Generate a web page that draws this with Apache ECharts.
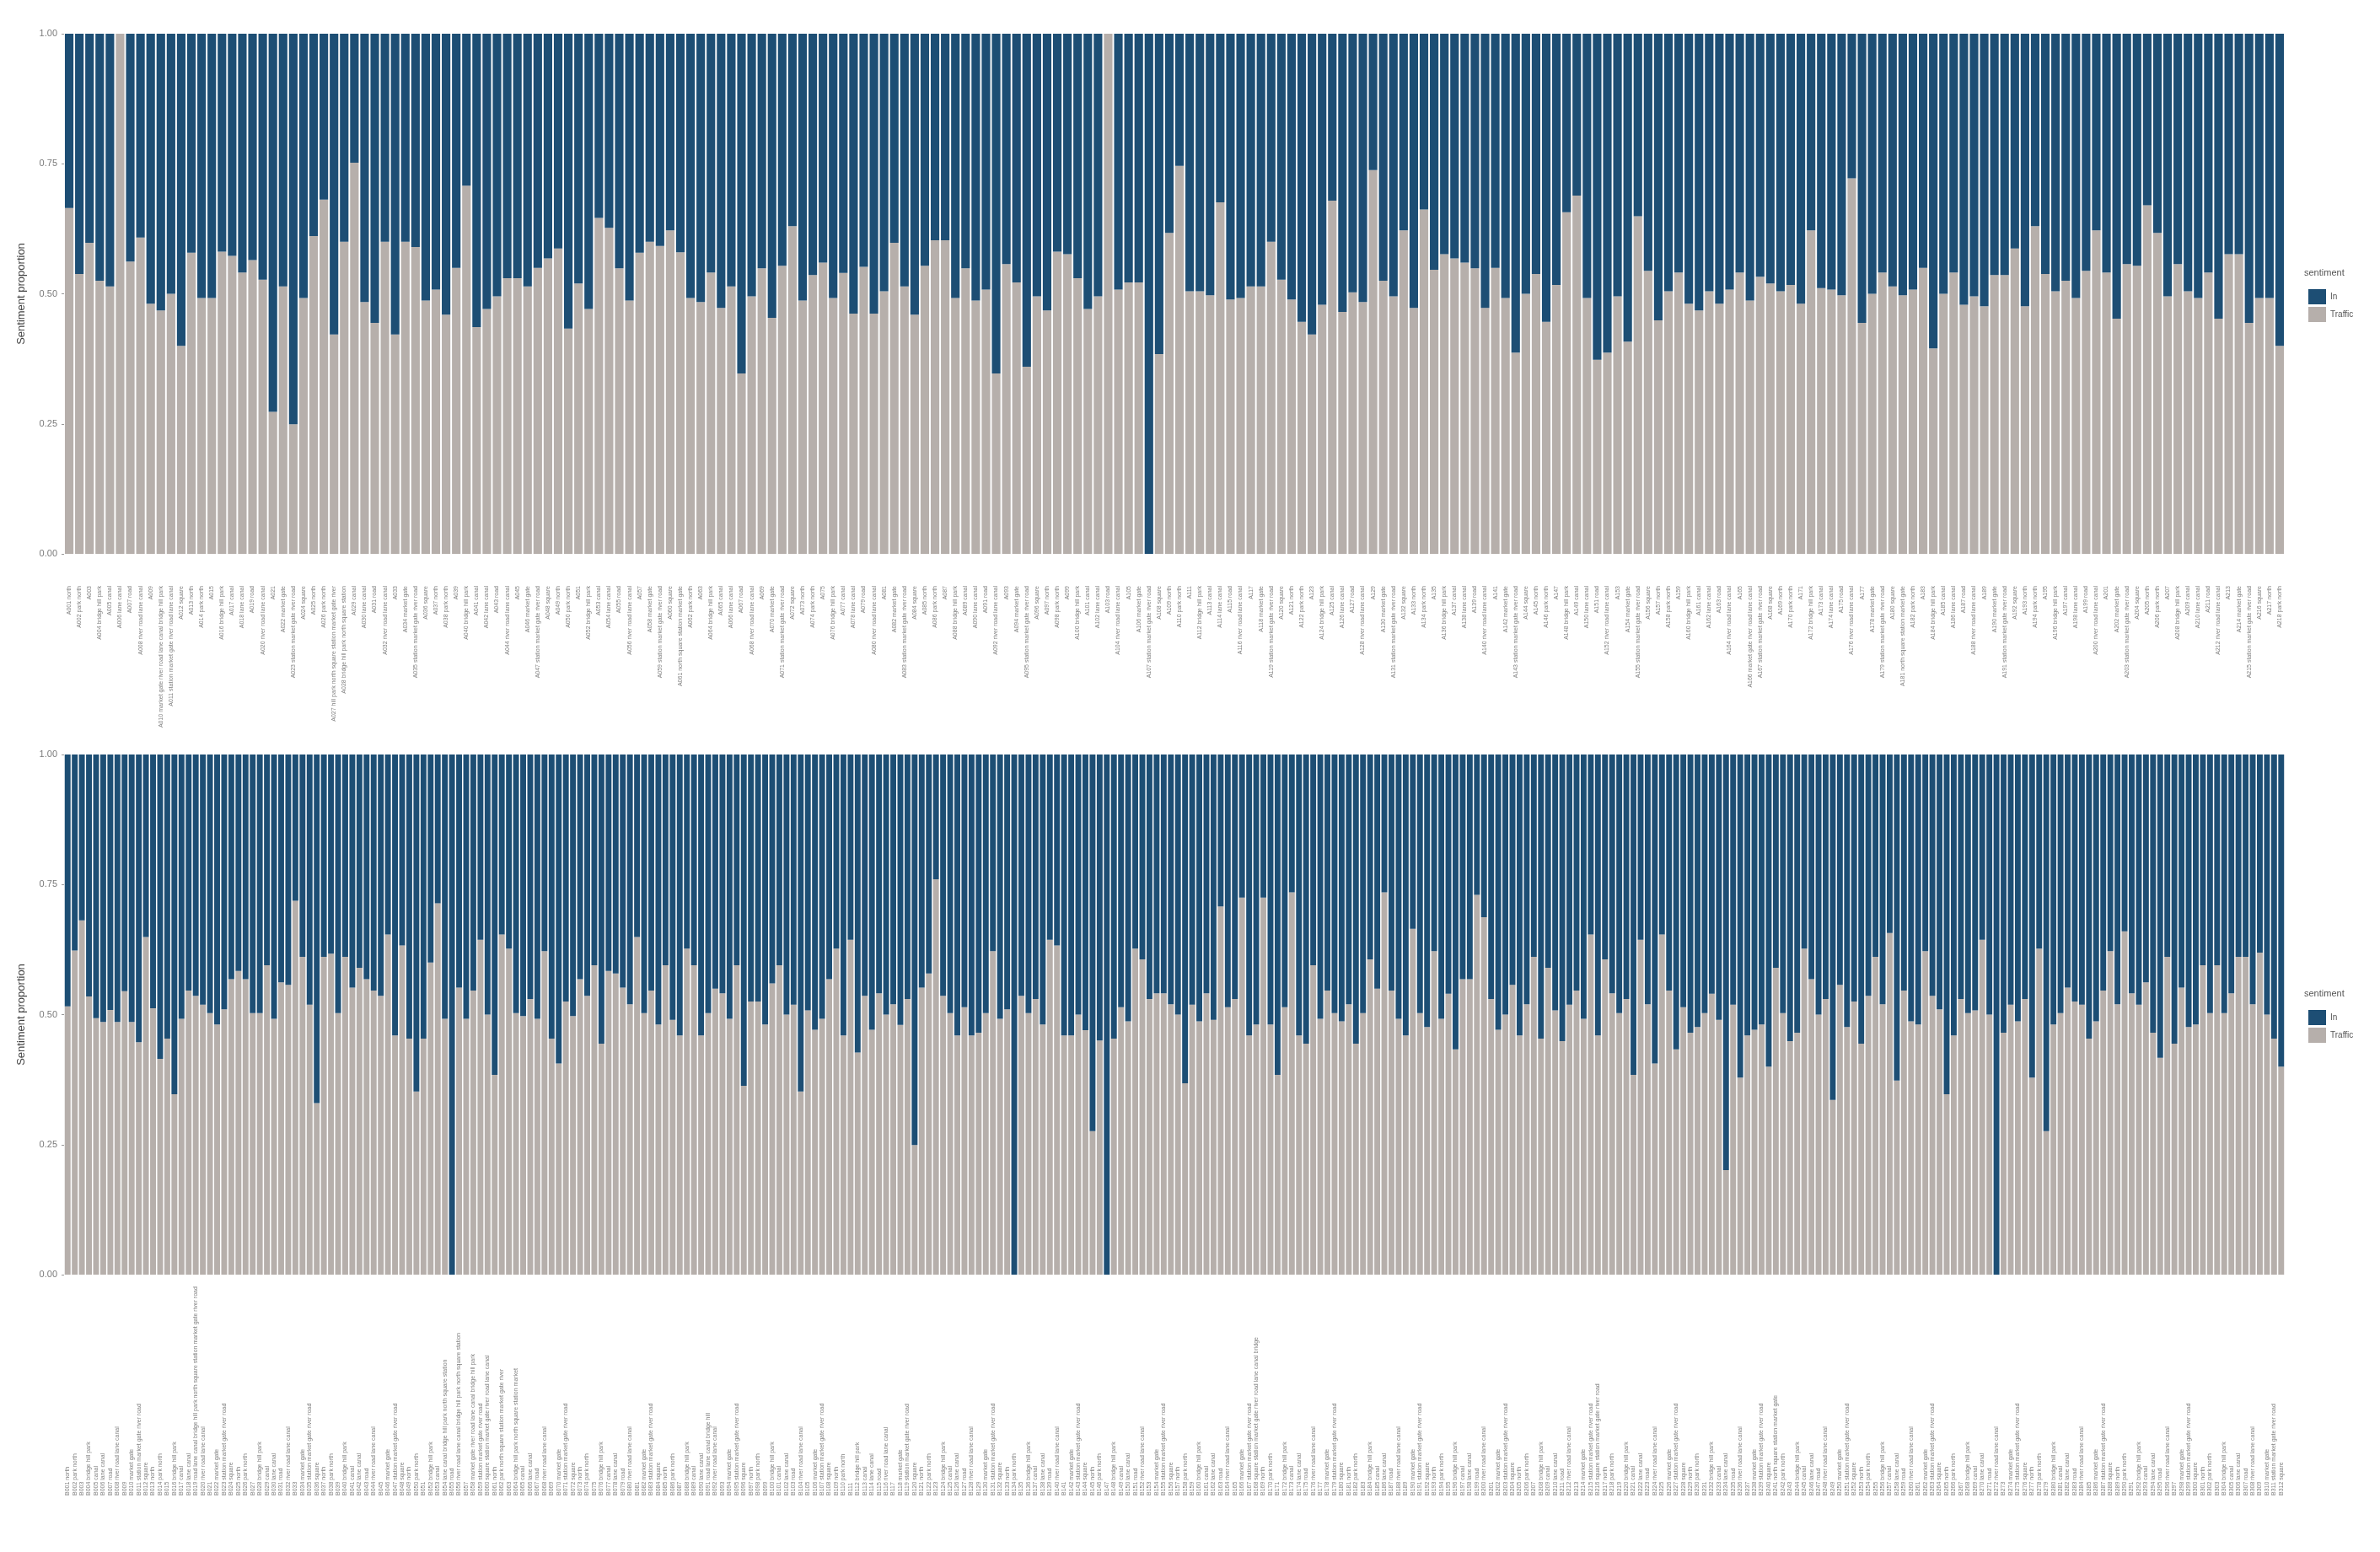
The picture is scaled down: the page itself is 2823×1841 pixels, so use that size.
<!DOCTYPE html>
<html><head><meta charset="utf-8">
<script src="https://cdn.jsdelivr.net/npm/echarts@6/dist/echarts.min.js"></script>
<style>html,body{margin:0;padding:0;background:#fff}#c{width:2823px;height:1841px}</style>
</head><body><div id="c"></div>
<script>
// share of the grey ("Traffic") part of every bar
const topShare = [
0.665,0.538,0.598,0.525,0.514,1.0,0.562,0.608,0.481,0.468,
0.500,0.400,0.579,0.492,0.492,0.581,0.573,0.541,0.565,0.527,
0.273,0.514,0.249,0.492,0.611,0.681,0.422,0.600,0.752,0.484,
0.444,0.600,0.422,0.600,0.590,0.487,0.508,0.460,0.550,0.708,
0.436,0.471,0.495,0.530,0.530,0.514,0.550,0.568,0.587,0.433,
0.520,0.471,0.646,0.627,0.549,0.487,0.579,0.600,0.592,0.622,
0.580,0.492,0.484,0.541,0.473,0.514,0.347,0.495,0.549,0.454,
0.554,0.630,0.487,
0.536,0.560,0.492,0.540,0.462,0.552,0.462,0.505,0.598,0.514,
0.460,0.554,0.603,0.603,0.492,0.549,0.487,0.508,0.347,0.557,
0.522,0.360,0.495,0.468,0.581,0.576,0.530,0.471,0.495,1.0,
0.508,0.522,0.522,0.0,0.384,0.617,0.746,0.505,0.505,0.497,
0.676,0.489,0.492,0.514,0.514,0.600,0.527,0.489,0.446,0.422,
0.479,0.679,0.465,0.503,0.484,0.738,0.525,0.495,0.622,0.473,
0.662,0.546,0.576,0.568,0.560,0.549,0.473,0.550,0.492,0.387,
0.500,0.538,0.446,
0.517,0.657,0.689,0.492,0.373,0.387,0.495,0.408,0.649,0.544,
0.449,0.505,0.541,0.481,0.468,0.505,0.481,0.508,0.541,0.487,
0.533,0.520,0.505,0.517,0.481,0.622,0.511,0.508,0.497,0.722,
0.444,0.500,0.541,0.514,0.497,0.508,0.550,0.395,0.500,0.541,
0.479,0.495,0.476,0.536,0.536,0.587,0.476,0.630,0.538,0.505,
0.525,0.492,0.544,0.622,0.541,0.452,0.557,0.554,0.670,0.617,
0.495,0.557,0.505,0.492,0.541,0.452,0.576,0.576,0.444,0.492,
0.492,0.400
];
const bottomShare = [
0.516,0.623,0.681,0.535,0.493,0.486,0.509,0.486,0.545,0.486,0.447,0.649,0.512,0.415,0.454,
0.347,
0.492,0.546,0.536,0.519,0.503,0.481,0.510,0.568,0.584,0.568,0.503,0.503,0.595,0.492,0.562,0.557,0.719,0.611,0.519,0.330,
0.611,0.617,0.503,0.611,0.552,0.590,0.568,0.546,0.536,0.654,0.460,0.633,0.454,0.352,0.454,0.600,0.714,0.492,0.0,
0.552,0.492,0.546,0.644,0.500,0.384,0.654,0.627,0.503,0.497,0.530,0.492,0.622,0.454,0.406,0.525,0.497,0.568,0.536,0.595,
0.444,0.584,0.579,0.552,0.520,0.649,0.503,0.546,0.481,0.595,0.490,0.460,0.627,0.595,0.460,0.503,0.550,0.541,0.492,0.595,
0.363,0.525,0.525,0.481,0.560,0.595,0.500,0.519,0.352,
0.508,0.471,0.492,0.568,0.627,0.460,0.644,0.427,0.536,0.471,0.541,0.500,0.520,0.480,0.530,0.249,0.552,0.579,0.760,0.536,
0.503,0.460,0.514,0.460,0.465,0.503,0.622,0.492,0.510,0.0,
0.536,0.503,0.530,0.481,0.644,0.633,0.460,0.460,0.500,0.470,0.276,0.450,0.0,
0.454,0.514,0.487,0.627,0.606,0.530,0.541,0.541,0.520,0.500,0.368,0.519,0.487,0.541,0.490,0.708,0.514,0.530,0.725,0.460,
0.481,0.725,0.481,0.384,0.514,0.735,0.460,0.444,0.595,0.492,0.546,0.503,0.487,0.520,0.444,0.503,0.606,0.550,0.735,0.546,
0.492,0.460,0.665,0.503,0.476,0.622,0.492,0.540,0.433,0.568,0.568,0.730,0.687,0.530,0.471,0.500,0.557,0.460,0.520,0.611,
0.454,0.590,
0.508,0.449,0.519,0.546,0.492,0.654,0.460,0.606,0.541,0.503,0.530,0.384,0.644,0.520,0.406,0.654,0.546,0.433,0.514,0.465,
0.476,0.503,0.540,0.490,0.201,0.519,0.379,0.460,0.471,0.481,0.400,0.590,0.503,0.449,0.465,0.627,0.568,0.500,0.530,0.336,
0.557,0.476,0.525,0.444,0.536,0.611,0.520,0.657,0.373,0.546,0.487,0.481,0.622,0.536,0.510,0.347,0.460,0.530,0.503,0.508,
0.644,0.500,0.0,
0.465,0.519,0.487,0.530,0.379,0.627,0.276,0.481,0.503,0.552,0.525,0.519,0.454,0.487,0.546,0.622,0.520,0.660,0.541,0.519,
0.562,0.465,0.417,0.611,0.444,0.552,0.476,0.481,0.595,0.503,0.595,0.503,0.541,0.611,0.611,0.520,0.619,0.500,0.454,0.400
];
const seriesNames = ['In', 'Traffic'];
const legendTitle = 'sentiment';
const yTitle = 'Sentiment proportion';
const yTicks = ['0.00', '0.25', '0.50', '0.75', '1.00'];
const nameWords = ['north','lane','station','bridge','gate','park','road','square','canal','market','hill','river'];
// label word counts (unreadable labels: lengths follow the picture)
const topLongLabels = {9: 9, 10: 7, 26: 8, 27: 6, 60: 5, 165: 6, 180: 5};
const bottomLongLabels = {18: 13, 53: 8, 55: 10, 57: 9, 59: 8, 61: 7, 63: 7, 167: 9, 90: 5, 215: 6, 240: 5};
function makeName(prefix, i, longMap) {
  const n = longMap[i] !== undefined ? longMap[i] : [1,2,0,3,1,2,1,4,0,2,5,1][i % 12];
  const w = [];
  for (let k = 0; k < n; k++) w.push(nameWords[(i * 5 + k * 7) % nameWords.length]);
  return prefix + String(i + 1).padStart(3, '0') + (w.length ? ' ' + w.join(' ') : '');
}
const topCategories = topShare.map((_, i) => makeName('A', i, topLongLabels));
const bottomCategories = bottomShare.map((_, i) => makeName('B', i, bottomLongLabels));

const BLUE = '#1d4e74', GREY = '#b6afab';
const FONT = 'Liberation Sans';
const chart = echarts.init(document.getElementById('c'), null, {renderer: 'canvas'});

function yAxis(gi) {
  return {
    type: 'value', gridIndex: gi, min: 0, max: 1, interval: 0.25,
    axisLine: {show: false}, axisTick: {show: true, length: 3, lineStyle: {color: '#999'}},
    splitLine: {show: false},
    axisLabel: {fontSize: 11, color: '#7a7a7a', fontFamily: FONT, margin: 8,
      formatter: v => yTicks[Math.round(v * 4)]},
    name: yTitle, nameLocation: 'middle', nameRotate: 90, nameGap: 44,
    nameTextStyle: {fontSize: 13, color: '#444', fontFamily: FONT}
  };
}
const option = {
  backgroundColor: '#fff',
  animation: false,
  grid: [
    {left: 76, right: 113, top: 40, height: 617},
    {left: 76, right: 113, top: 895, height: 617}
  ],
  xAxis: [
    {type: 'category', gridIndex: 0, data: topCategories,
      axisLine: {show: false}, axisTick: {show: false},
      axisLabel: {interval: 0, rotate: 90, fontSize: 7, color: '#808080', fontFamily: FONT, margin: 38}},
    {type: 'category', gridIndex: 1, data: bottomCategories,
      axisLine: {show: false}, axisTick: {show: false},
      axisLabel: {interval: 0, rotate: 90, align: 'left', fontSize: 7, color: '#808080', fontFamily: FONT, margin: 262}}
  ],
  yAxis: [yAxis(0), yAxis(1)],
  legend: [
    {orient: 'vertical', left: 2733, top: 338, itemWidth: 21, itemHeight: 18, itemGap: 3,
      icon: 'rect', data: seriesNames, textStyle: {fontSize: 10, color: '#555', fontFamily: FONT}, selectedMode: false},
    {orient: 'vertical', left: 2733, top: 1193, itemWidth: 21, itemHeight: 18, itemGap: 3,
      icon: 'rect', data: seriesNames, textStyle: {fontSize: 10, color: '#555', fontFamily: FONT}, selectedMode: false}
  ],
  graphic: [
    {type: 'text', left: 2733, top: 318, style: {text: legendTitle, fontSize: 11, fill: '#555', fontFamily: FONT}},
    {type: 'text', left: 2733, top: 1173, style: {text: legendTitle, fontSize: 11, fill: '#555', fontFamily: FONT}}
  ],
  series: [
    {name: 'Traffic', type: 'bar', stack: 'top', xAxisIndex: 0, yAxisIndex: 0, barCategoryGap: '16%',
      itemStyle: {color: GREY}, data: topShare},
    {name: 'In', type: 'bar', stack: 'top', xAxisIndex: 0, yAxisIndex: 0, barCategoryGap: '16%',
      itemStyle: {color: BLUE}, data: topShare.map(v => +(1 - v).toFixed(3))},
    {name: 'Traffic', type: 'bar', stack: 'bottom', xAxisIndex: 1, yAxisIndex: 1, barCategoryGap: '18%',
      itemStyle: {color: GREY}, data: bottomShare},
    {name: 'In', type: 'bar', stack: 'bottom', xAxisIndex: 1, yAxisIndex: 1, barCategoryGap: '18%',
      itemStyle: {color: BLUE}, data: bottomShare.map(v => +(1 - v).toFixed(3))}
  ]
};
chart.setOption(option);
</script></body></html>
